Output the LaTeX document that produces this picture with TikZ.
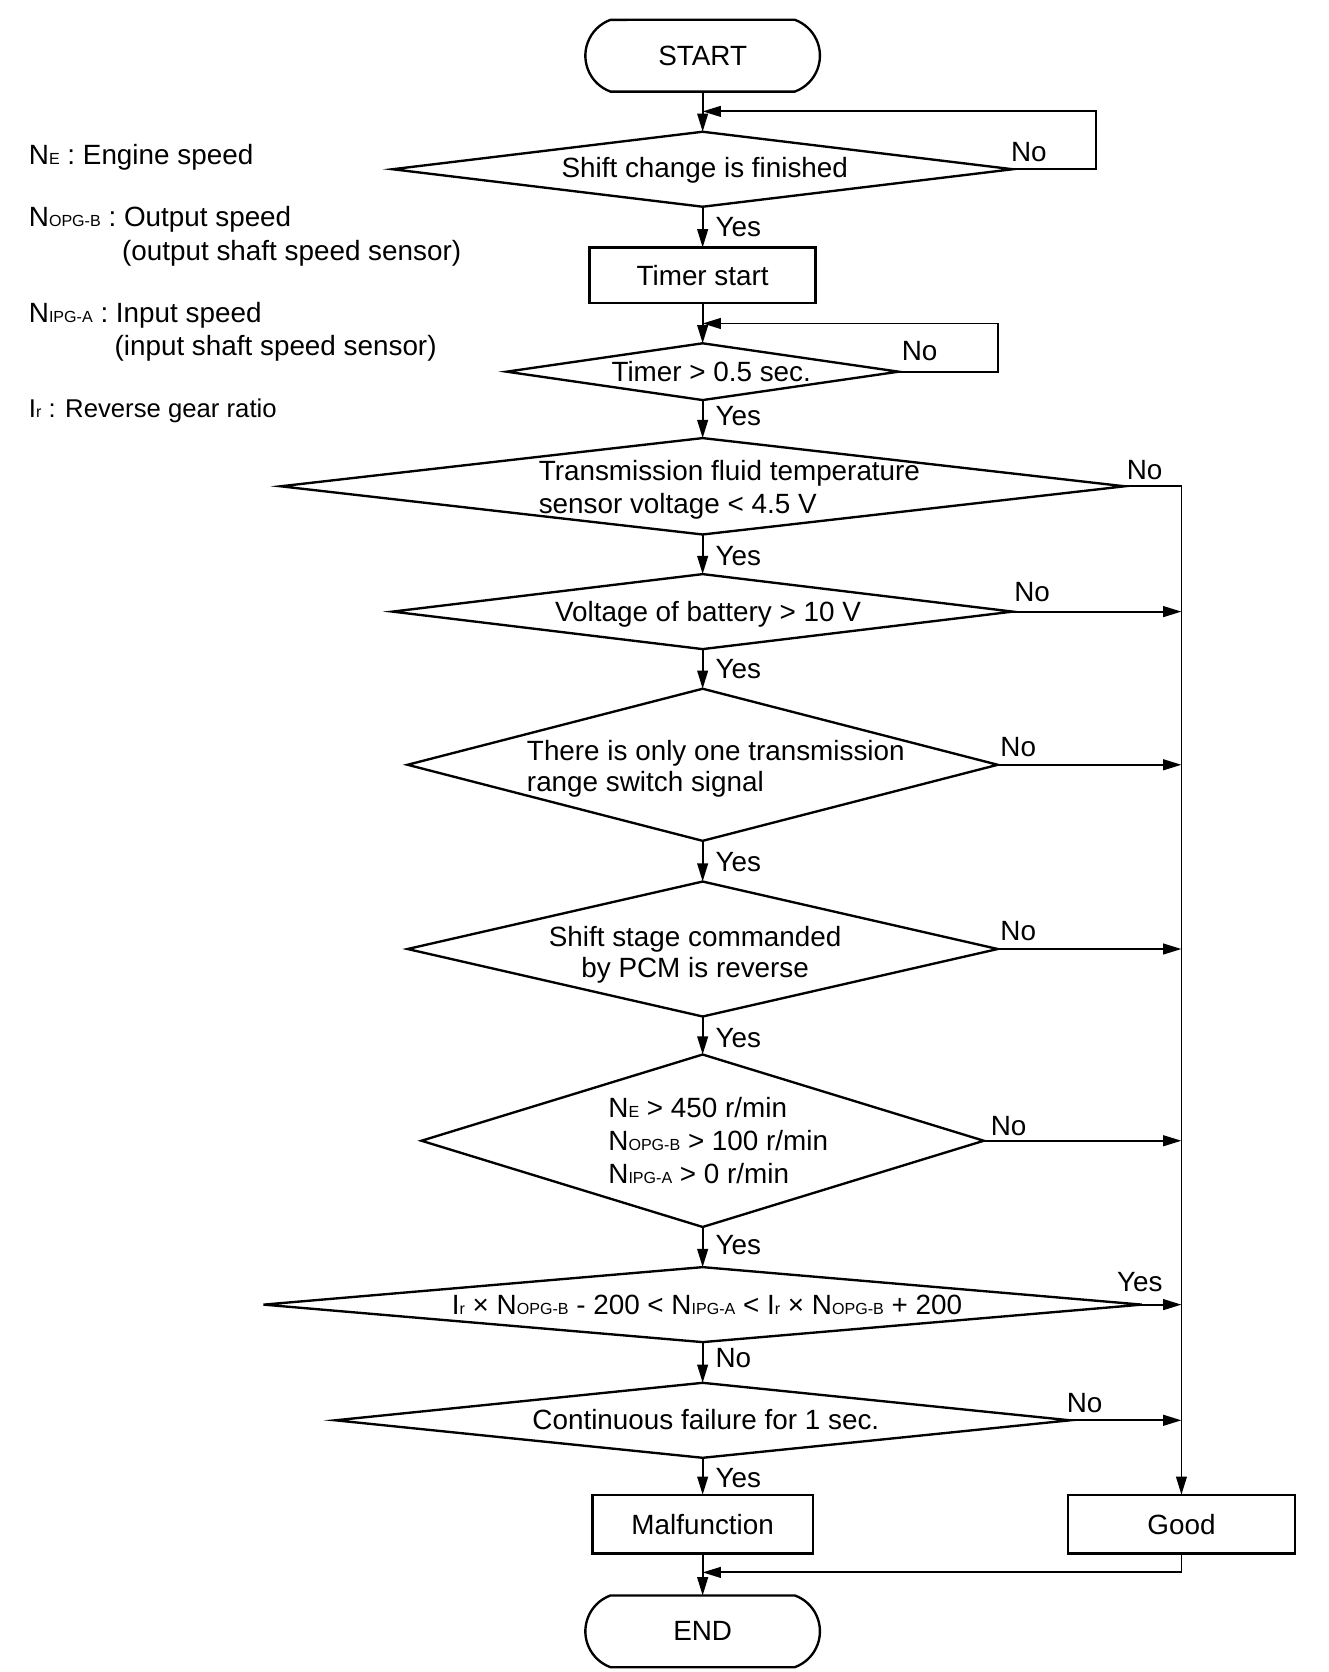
\documentclass[tikz,border=0pt]{standalone}
\usepackage{fontspec}
\setmainfont{Liberation Sans}
\usetikzlibrary{arrows.meta,shapes.geometric,shapes.misc}
\newcommand{\lsub}[1]{{\fontsize{15}{15}\selectfont #1}}
\begin{document}
\begin{tikzpicture}[x=1pt,y=-1pt, font=\fontsize{26}{31}\selectfont,
  shp/.style={draw, line width=2.2pt, inner sep=0pt, outer sep=0pt},
  dia/.style={shp, diamond},
  box/.style={shp, rectangle},
  term/.style={shp, rounded rectangle, rounded rectangle arc length=140, minimum width=219pt, minimum height=67pt},
  arr/.style={line width=1.7pt, -{Triangle[length=17pt,width=10pt]}},
  txt/.style={inner sep=0pt, outer sep=0pt},
  lbl/.style={txt, anchor=base west},
]
\useasboundingbox (0,0) rectangle (1240,1561);

% legend
\node[lbl] (lg1) at (27,154) {N\lsub{E} : Engine speed};
\node[lbl] (lg2) at (27,211) {N\lsub{OPG-B} : Output speed};
\node[lbl] (lg3) at (114,243) {(output shaft speed sensor)};
\node[lbl] (lg4) at (27,301) {N\lsub{IPG-A} : Input speed};
\node[lbl] (lg5) at (107,332) {(input shaft speed sensor)};
\node[lbl, font=\fontsize{24}{28}\selectfont] (lg6) at (27,390) {I\lsub{r} : Reverse gear ratio};

% shapes
\node[term] (start) at (656,52) {START};
\node[dia, minimum width=579pt, minimum height=70pt] (d1) at (656,158) {};
\node[txt, anchor=base] (t1) at (658,166) {Shift change is finished};
\node[box, minimum width=211pt, minimum height=52pt] (timer) at (656,257) {Timer start};
\node[dia, minimum width=366pt, minimum height=53pt] (d2) at (656,347) {};
\node[txt, anchor=base] (t2) at (664,356) {Timer > 0.5 sec.};
\node[dia, minimum width=788pt, minimum height=90pt] (d3) at (656,454) {};
\node[txt, anchor=north west, align=left, font=\fontsize{26}{31}\selectfont] (t3) at (503,430) {Transmission fluid temperature\\sensor voltage < 4.5 V};
\node[dia, minimum width=579pt, minimum height=70pt] (d4) at (656,571) {};
\node[txt, anchor=base] (t4) at (661,580) {Voltage of battery > 10 V};
\node[dia, minimum width=551pt, minimum height=142pt] (d5) at (656,714) {};
\node[txt, anchor=north west, align=left, font=\fontsize{26}{29}\selectfont] (t5) at (492,691) {There is only one transmission\\range switch signal};
\node[dia, minimum width=551pt, minimum height=126pt] (d6) at (656,886) {};
\node[txt, anchor=north, align=center, font=\fontsize{26}{29}\selectfont] (t6) at (649,865) {Shift stage commanded\\by PCM is reverse};
\node[dia, minimum width=525pt, minimum height=161pt] (d7) at (656,1065) {};
\node[txt, anchor=north west, align=left, font=\fontsize{26}{31}\selectfont] (t7) at (568,1024) {N\lsub{E} > 450 r/min\\N\lsub{OPG-B} > 100 r/min\\N\lsub{IPG-A} > 0 r/min};
\node[dia, minimum width=820pt, minimum height=70pt] (d8) at (656,1218) {};
\node[txt, anchor=base] (t8) at (660,1227) {I\lsub{r} × N\lsub{OPG-B} - 200 < N\lsub{IPG-A} < I\lsub{r} × N\lsub{OPG-B} + 200};
\node[dia, minimum width=686pt, minimum height=70pt] (d9) at (656,1326) {};
\node[txt, anchor=base] (t9) at (659,1335) {Continuous failure for 1 sec.};
\node[box, minimum width=206pt, minimum height=55pt] (mal) at (656,1423) {Malfunction};
\node[box, minimum width=212pt, minimum height=55pt] (good) at (1103,1423) {Good};
\node[term] (end) at (656,1523) {END};

% helper coordinates
\coordinate (j1) at (656,104);
\coordinate (j2) at (656,302);
\coordinate (j3) at (656,1468);
\coordinate (bus) at (1103,454);

% main column
\draw[arr] (start.south) -- (d1.north);
\draw[arr] (d1.south) -- (timer.north);
\draw[arr] (timer.south) -- (d2.north);
\draw[arr] (d2.south) -- (d3.north);
\draw[arr] (d3.south) -- (d4.north);
\draw[arr] (d4.south) -- (d5.north);
\draw[arr] (d5.south) -- (d6.north);
\draw[arr] (d6.south) -- (d7.north);
\draw[arr] (d7.south) -- (d8.north);
\draw[arr] (d8.south) -- (d9.north);
\draw[arr] (d9.south) -- (mal.north);
\draw[arr] (mal.south) -- (end.north);

% loops
\draw[arr] (d1.east) -- ++(78,0) |- (j1);
\draw[arr] (d2.east) -- ++(93,0) |- (j2);

% right bus
\draw[arr] (d3.east) -- (bus) -- (good.north);
\draw[arr] (d4.east) -- (d4.east -| bus);
\draw[arr] (d5.east) -- (d5.east -| bus);
\draw[arr] (d6.east) -- (d6.east -| bus);
\draw[arr] (d7.east) -- (d7.east -| bus);
\draw[arr] (d8.east) -- (d8.east -| bus);
\draw[arr] (d9.east) -- (d9.east -| bus);
\draw[arr] (good.south) |- (j3);

% labels
\node[lbl] (n1) at (944,151) {No};
\node[lbl] (y1) at (668,221) {Yes};
\node[lbl] (n2) at (842,337) {No};
\node[lbl] (y2) at (668,397) {Yes};
\node[lbl] (n3) at (1052,448) {No};
\node[lbl] (y3) at (668,528) {Yes};
\node[lbl] (n4) at (947,562) {No};
\node[lbl] (y4) at (668,633) {Yes};
\node[lbl] (n5) at (934,706) {No};
\node[lbl] (y5) at (668,814) {Yes};
\node[lbl] (n6) at (934,878) {No};
\node[lbl] (y6) at (668,978) {Yes};
\node[lbl] (n7) at (925,1060) {No};
\node[lbl] (y7) at (668,1171) {Yes};
\node[lbl] (y8) at (1043,1206) {Yes};
\node[lbl] (n8) at (668,1277) {No};
\node[lbl] (n9) at (996,1319) {No};
\node[lbl] (y9) at (668,1389) {Yes};
\end{tikzpicture}
\end{document}
